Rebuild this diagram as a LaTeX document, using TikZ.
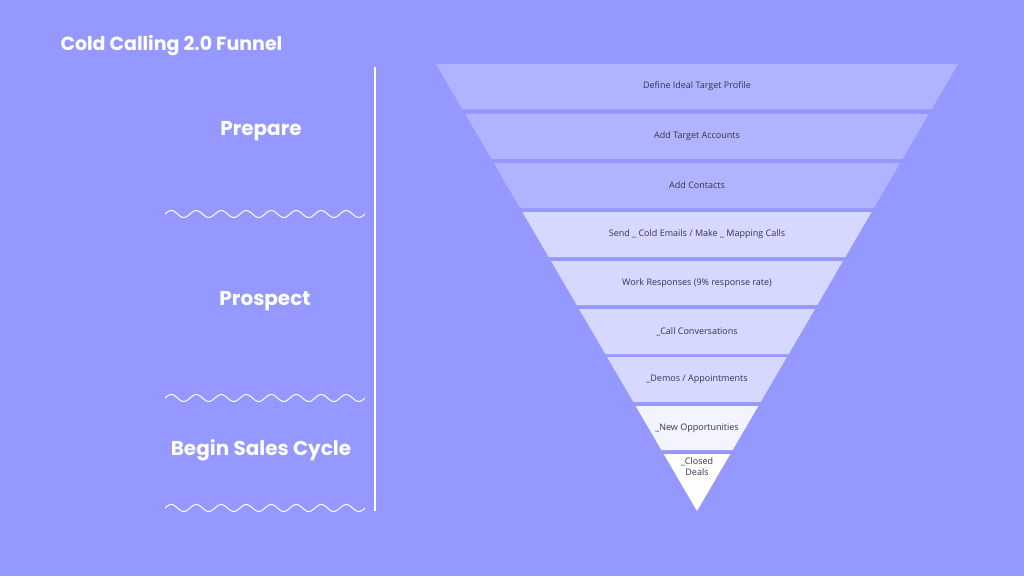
\documentclass[tikz,border=0pt]{standalone}
\usepackage{fontspec}
\setmainfont{Poppins}
\newfontfamily\bandfont{Open Sans}
\definecolor{bg}{HTML}{9599FF}
\definecolor{bA}{HTML}{B0B3FE}
\definecolor{bB}{HTML}{D6D8FF}
\definecolor{bC}{HTML}{F3F4FF}
\definecolor{txt}{HTML}{33344F}
\tikzset{
  heading/.style={text=white,font=\fontsize{20}{24}\selectfont\bfseries},
  bandtext/.style={text=txt,font=\bandfont\fontsize{9}{11}\selectfont,align=center},
  wave/.style={white,line width=1pt},
}
\begin{document}
\begin{tikzpicture}[x=1pt,y=-1pt]
\useasboundingbox (0,0) rectangle (1024,576);
\fill[bg] (0,0) rectangle (1024,576);
\node[anchor=west,text=white,font=\fontsize{19}{23}\selectfont\bfseries] (title) at (57,45) {Cold Calling 2.0 Funnel};
\node[heading] (prep) at (261,131) {Prepare};
\node[heading] (pros) at (265,301) {Prospect};
\node[heading] (begin) at (261,450) {Begin Sales Cycle};
\coordinate (lt) at (375,67); \coordinate (lb) at (375,511);
\draw[white,line width=2.5pt] (lt) -- (lb);
\foreach \yy in {214,398,508}
  \draw[wave] plot[domain=165:365,samples=200,smooth] (\x,{\yy-3.5*sin((\x-165)/25*360)});
\def\hw#1{(0.5839*(511-#1))}
\foreach \t/\b/\c/\lab/\n in {64/109/bA/{Define Ideal Target Profile}/s1,
  114/159/bA/{Add Target Accounts}/s2,
  163/208/bA/{Add Contacts}/s3,
  212/257/bB/{Send \_ Cold Emails / Make \_ Mapping Calls}/s4,
  261/305/bB/{Work Responses (9\% response rate)}/s5,
  309/354/bB/{\_Call Conversations}/s6,
  357/402/bB/{\_Demos / Appointments}/s7,
  406/450/bC/{\_New Opportunities}/s8}{
  \fill[\c] ({697-\hw{\t}},\t) -- ({697+\hw{\t}},\t) -- ({697+\hw{\b}},\b) -- ({697-\hw{\b}},\b) -- cycle;
  \node[bandtext] (\n) at (697,{(\t+\b)/2}) {\lab};
}
\fill[white] ({697-\hw{454}},454) -- ({697+\hw{454}},454) -- (697,511) -- cycle;
\node[bandtext] (s9) at (697,467) {\_Closed\\Deals};
\end{tikzpicture}
\end{document}
